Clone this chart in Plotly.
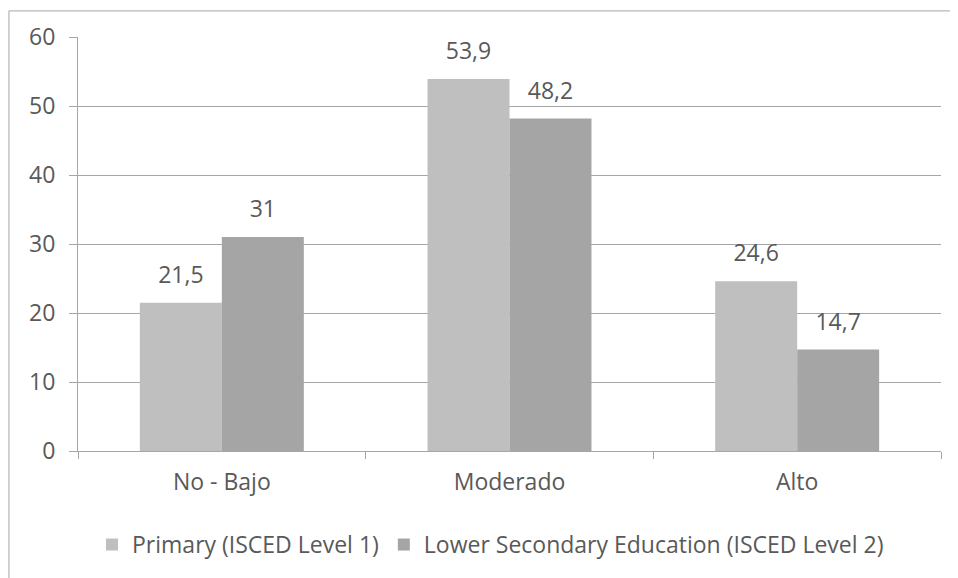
import plotly.graph_objects as go

categories = ["No - Bajo", "Moderado", "Alto"]
primary = [21.5, 53.9, 24.6]
lower_secondary = [31, 48.2, 14.7]
primary_labels = ["21,5", "53,9", "24,6"]
secondary_labels = ["31", "48,2", "14,7"]
series_names = ["Primary (ISCED Level 1)", "Lower Secondary Education (ISCED Level 2)"]
y_ticks = [0, 10, 20, 30, 40, 50, 60]

TXT = "#595959"
GRID = "#A6A6A6"
FONT = "Open Sans"
FS = 23

fig = go.Figure()
fig.add_trace(go.Bar(x=categories, y=primary, name=series_names[0], offsetgroup="a",
                     marker=dict(color="#BFBFBF", line=dict(width=0)), hoverinfo="x+y"))
fig.add_trace(go.Bar(x=categories, y=lower_secondary, name=series_names[1], offsetgroup="b",
                     marker=dict(color="#A5A5A5", line=dict(width=0)), hoverinfo="x+y"))
# data labels
fig.add_trace(go.Scatter(x=categories, y=primary, offsetgroup="a", mode="markers+text",
                         text=primary_labels, textposition="top center",
                         marker=dict(size=21, color="rgba(0,0,0,0)"),
                         textfont=dict(size=FS, color=TXT), showlegend=False,
                         hoverinfo="skip", cliponaxis=False))
fig.add_trace(go.Scatter(x=categories, y=lower_secondary, offsetgroup="b", mode="markers+text",
                         text=secondary_labels, textposition="top center",
                         marker=dict(size=21, color="rgba(0,0,0,0)"),
                         textfont=dict(size=FS, color=TXT), showlegend=False,
                         hoverinfo="skip", cliponaxis=False))

fig.update_layout(
    width=950, height=570,
    margin=dict(l=70, r=17, t=27, b=127),
    paper_bgcolor="white", plot_bgcolor="white",
    font=dict(family=FONT, size=FS, color=TXT),
    barmode="group", bargap=0.43, bargroupgap=0,
    scattermode="group", scattergap=0.43,
    showlegend=True,
    legend=dict(orientation="h", x=0.478, xanchor="center", y=-0.226, yanchor="middle",
                font=dict(size=FS, color=TXT), itemwidth=30, traceorder="normal"),
    xaxis=dict(type="category", showline=True, linecolor=GRID, linewidth=1,
               ticks="outside", tickson="boundaries", ticklen=7, tickcolor=GRID,
               tickfont=dict(size=FS, color=TXT), ticklabelstandoff=10, showgrid=False),
    yaxis=dict(range=[0, 60], tickvals=y_ticks, showgrid=True, gridcolor=GRID, gridwidth=1,
               showline=True, linecolor=GRID, linewidth=1, ticks="outside", ticklen=8,
               tickcolor=GRID, tickfont=dict(size=FS, color=TXT), zeroline=False,
               ticklabelstandoff=9),
    shapes=[dict(type="rect", xref="paper", yref="paper", x0=-0.08, x1=1.2, y0=-0.5, y1=1.063,
                 line=dict(color="#A6A6A6", width=1), fillcolor="rgba(0,0,0,0)", layer="below")],
)

fig.write_html("out.html")
